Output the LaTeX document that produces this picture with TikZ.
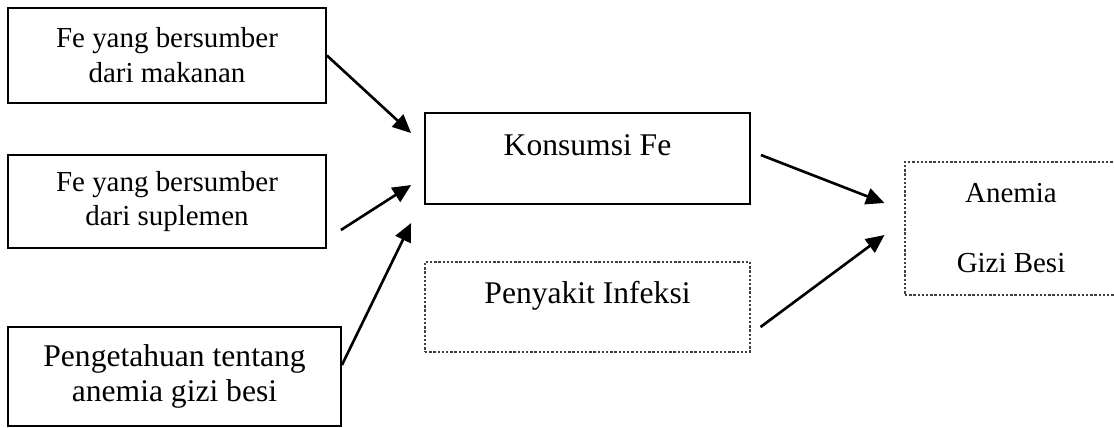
\documentclass[tikz,border=0pt]{standalone}
\usepackage{fontspec}
\setmainfont{Liberation Serif}
\usetikzlibrary{calc,arrows.meta}

\tikzset{
  solidbox/.style={draw, line width=0.7pt, inner sep=0pt, align=center},
  dotbox/.style={draw=black!75, line width=0.4pt, dash pattern=on 0.9pt off 0.7pt, inner sep=0pt, align=center},
  smalltext/.style={font=\fontsize{11}{13}\selectfont},
  bigtext/.style={font=\fontsize{12}{13.3}\selectfont},
  link/.style={-{Triangle[length=7pt,width=6.3pt]}, line width=1pt},
}

\begin{document}
\begin{tikzpicture}[x=0.38pt, y=-0.38pt]
  \useasboundingbox (0,0) rectangle (1114,427);

  % The sources of Fe
  \node[solidbox, smalltext, text depth=0.5pt, minimum width=318*0.38pt, minimum height=95*0.38pt] (food) at (167,55.5) {Fe yang bersumber\\dari makanan};
  \node[solidbox, smalltext, minimum width=318*0.38pt, minimum height=93*0.38pt] (supp) at (167,201.5) {Fe yang bersumber\\dari suplemen};
  \node[solidbox, bigtext, minimum width=333*0.38pt, minimum height=99*0.38pt] (know) at (174.5,376.5) {Pengetahuan tentang\\anemia gizi besi};

  % The middle boxes
  \node[solidbox, bigtext, text depth=10pt, minimum width=325*0.38pt, minimum height=91*0.38pt] (cons) at (587.5,158.5) {Konsumsi Fe};
  \node[dotbox, bigtext, text depth=11pt, minimum width=325*0.38pt, minimum height=90*0.38pt] (infe) at (587.5,307) {Penyakit Infeksi};

  % The outcome
  \node[dotbox, font=\fontsize{11}{26.6}\selectfont, minimum width=212*0.38pt, minimum height=133*0.38pt] (anem) at (1011,228.5) {Anemia\\Gizi Besi};

  % The arrows
  \draw[link] (food.east) -- ($(cons.west)+(-13,-25.5)$);
  \draw[link] ($(supp.east)+(14,28.5)$) -- ($(cons.west)+(-13,26.5)$);
  \draw[link] ($(know.east)+(0,-11.5)$) -- ($(cons.west)+(-13,64.5)$);
  \draw[link] ($(cons.east)+(10,-3.5)$) -- ($(anem.west)+(-20,-25.5)$);
  \draw[link] ($(infe.east)+(10,20)$) -- ($(anem.west)+(-20,6.5)$);

\end{tikzpicture}
\end{document}
